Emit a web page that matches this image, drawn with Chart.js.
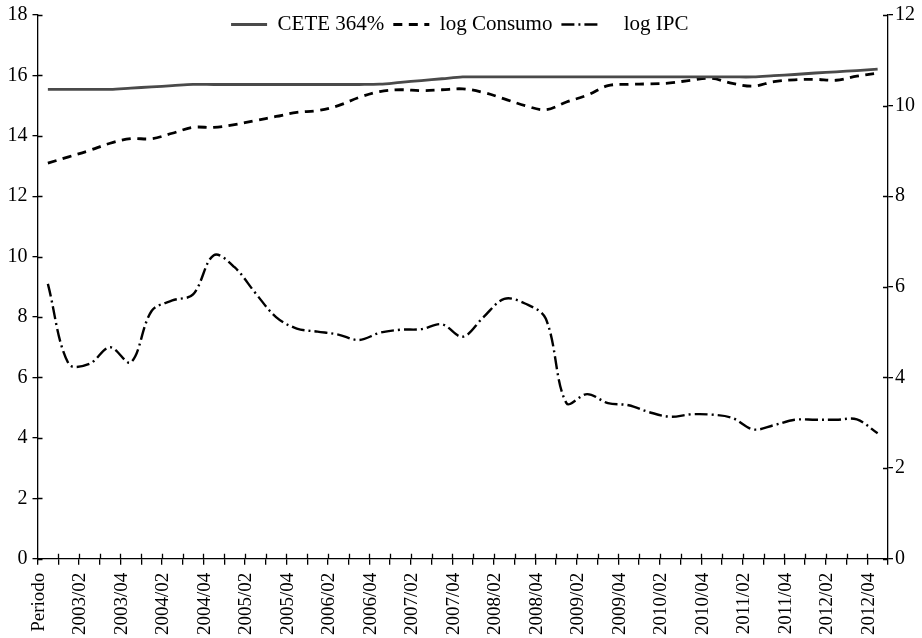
<!DOCTYPE html>
<html>
<head>
<meta charset="utf-8">
<script src="https://cdn.jsdelivr.net/npm/chart.js@4.4.1/dist/chart.umd.min.js"></script>
<style>
  html, body { margin: 0; padding: 0; background: #ffffff; }
</style>
</head>
<body>
<canvas id="c" width="922" height="638"></canvas>
<script>
// Category labels (only every other one is shown on the axis)
const categories = [
  'Periodo',
  '2003/01','2003/02','2003/03','2003/04',
  '2004/01','2004/02','2004/03','2004/04',
  '2005/01','2005/02','2005/03','2005/04',
  '2006/01','2006/02','2006/03','2006/04',
  '2007/01','2007/02','2007/03','2007/04',
  '2008/01','2008/02','2008/03','2008/04',
  '2009/01','2009/02','2009/03','2009/04',
  '2010/01','2010/02','2010/03','2010/04',
  '2011/01','2011/02','2011/03','2011/04',
  '2012/01','2012/02','2012/03','2012/04'
];

// Solid grey line (left axis)
const cete364 = [
  15.54, 15.54, 15.54, 15.54, 15.58, 15.62, 15.66, 15.70, 15.70, 15.70,
  15.70, 15.70, 15.70, 15.70, 15.70, 15.70, 15.71, 15.77, 15.83, 15.89,
  15.95, 15.95, 15.95, 15.95, 15.95, 15.95, 15.95, 15.95, 15.95, 15.95,
  15.95, 15.95, 15.95, 15.95, 15.95, 15.99, 16.03, 16.08, 16.12, 16.16,
  16.21
];

// Dashed line (right axis)
const logConsumo = [
  8.73, 8.87, 9.01, 9.17, 9.27, 9.27, 9.39, 9.52, 9.52, 9.58,
  9.67, 9.76, 9.85, 9.89, 10.00, 10.18, 10.31, 10.35, 10.33, 10.35,
  10.37, 10.29, 10.15, 10.00, 9.91, 10.08, 10.23, 10.44, 10.47, 10.48,
  10.50, 10.56, 10.60, 10.49, 10.43, 10.53, 10.57, 10.58, 10.56, 10.65,
  10.72
];

// Dash-dot line (left axis)
const logIPC = [
  9.10, 6.45, 6.45, 7.00, 6.50, 8.20, 8.55, 8.75, 10.05, 9.65,
  8.80, 8.00, 7.62, 7.52, 7.42, 7.24, 7.48, 7.58, 7.60, 7.76,
  7.35, 8.00, 8.60, 8.45, 7.95, 5.15, 5.45, 5.15, 5.08, 4.85,
  4.70, 4.78, 4.77, 4.66, 4.28, 4.42, 4.60, 4.60, 4.60, 4.61,
  4.15
];

const seriesNames = ['CETE 364%', 'log Consumo', '   log IPC'];

const SERIF = "'Liberation Serif', 'Times New Roman', serif";

// Legend overlaps the top of the plot: reserve ~no space, but let it draw fully
const legendOverlay = {
  id: 'legendOverlay',
  afterLayout(chart) {
    const lg = chart.legend;
    if (lg) {
      lg.top = lg.top - 9;
      lg.height = 40;
      lg.bottom = lg.top + 40;
    }
  }
};

// Draw the inner half of the crossing tick marks
const crossTicks = {
  id: 'crossTicks',
  afterDatasetsDraw(chart) {
    const { ctx, chartArea: a, scales } = chart;
    ctx.save();
    ctx.strokeStyle = '#000';
    ctx.lineWidth = 1.3;
    ctx.beginPath();
    const xs = scales.x;
    for (let k = 1; k < xs.ticks.length; k++) {
      const px = Math.round(xs.getPixelForValue(k - 0.5)) + 0.5;
      ctx.moveTo(px, a.bottom);
      ctx.lineTo(px, a.bottom - 5);
    }
    scales.y.ticks.forEach(t => {
      const py = Math.round(scales.y.getPixelForValue(t.value)) + 0.5;
      ctx.moveTo(a.left, py);
      ctx.lineTo(a.left + 5, py);
    });
    scales.y1.ticks.forEach(t => {
      const py = Math.round(scales.y1.getPixelForValue(t.value)) + 0.5;
      ctx.moveTo(a.right, py);
      ctx.lineTo(a.right - 5, py);
    });
    ctx.stroke();
    ctx.restore();
  }
};

new Chart(document.getElementById('c'), {
  type: 'line',
  data: {
    labels: categories,
    datasets: [
      {
        label: seriesNames[0],
        data: cete364,
        yAxisID: 'y',
        borderColor: '#4a4a4a',
        backgroundColor: '#4a4a4a',
        borderWidth: 2.8,
        pointRadius: 0,
        tension: 0.35,
        fill: false
      },
      {
        label: seriesNames[1],
        data: logConsumo,
        yAxisID: 'y1',
        borderColor: '#000000',
        backgroundColor: '#000000',
        borderWidth: 2.8,
        borderDash: [9, 6.5],
        pointRadius: 0,
        tension: 0.35,
        fill: false
      },
      {
        label: seriesNames[2],
        data: logIPC,
        yAxisID: 'y',
        borderColor: '#000000',
        backgroundColor: '#000000',
        borderWidth: 2.4,
        borderDash: [13, 4, 2, 4],
        pointRadius: 0,
        tension: 0.35,
        fill: false
      }
    ]
  },
  options: {
    responsive: false,
    animation: false,
    devicePixelRatio: 1,
    layout: { padding: { top: 0, left: 2.5, right: 5, bottom: -5 } },
    plugins: {
      tooltip: { enabled: false },
      legend: {
        display: true,
        position: 'top',
        align: 'center',
        maxHeight: 1,
        labels: {
          usePointStyle: true,
          pointStyle: 'line',
          pointStyleWidth: 36,
          boxWidth: 36,
          padding: 9,
          color: '#000',
          font: { family: SERIF, size: 21 },
          generateLabels(chart) {
            const items = Chart.defaults.plugins.legend.labels.generateLabels(chart);
            items.forEach(it => {
              const ds = chart.data.datasets[it.datasetIndex];
              it.lineDash = ds.borderDash || [];
              it.lineWidth = ds.borderWidth;
              it.strokeStyle = ds.borderColor;
              it.fillStyle = ds.borderColor;
              it.pointStyle = 'line';
              it.lineCap = 'butt';
            });
            return items;
          }
        }
      }
    },
    scales: {
      x: {
        type: 'category',
        offset: true,
        border: { display: true, color: '#000', width: 1.3 },
        grid: {
          offset: true,
          drawOnChartArea: false,
          drawTicks: true,
          tickLength: 6,
          color: '#000',
          lineWidth: 1.3
        },
        ticks: {
          autoSkip: false,
          maxRotation: 90,
          minRotation: 90,
          padding: 8,
          labelOffset: -9,
          color: '#000',
          font: { family: SERIF, size: 19 },
          callback: function (value, index) {
            return index % 2 === 0 ? this.getLabelForValue(value) : '';
          }
        }
      },
      y: {
        position: 'left',
        min: 0,
        max: 18,
        border: { display: true, color: '#000', width: 1.3 },
        grid: {
          drawOnChartArea: false,
          drawTicks: true,
          tickLength: 5,
          color: '#000',
          lineWidth: 1.3
        },
        ticks: {
          stepSize: 2,
          padding: 5,
          color: '#000',
          font: { family: SERIF, size: 20, lineHeight: 1 }
        }
      },
      y1: {
        position: 'right',
        min: 0,
        max: 12,
        border: { display: true, color: '#000', width: 1.3 },
        grid: {
          drawOnChartArea: false,
          drawTicks: true,
          tickLength: 5,
          color: '#000',
          lineWidth: 1.3
        },
        ticks: {
          stepSize: 2,
          padding: 2,
          color: '#000',
          font: { family: SERIF, size: 20, lineHeight: 1 }
        }
      }
    }
  },
  plugins: [legendOverlay, crossTicks]
});
</script>
</body>
</html>
